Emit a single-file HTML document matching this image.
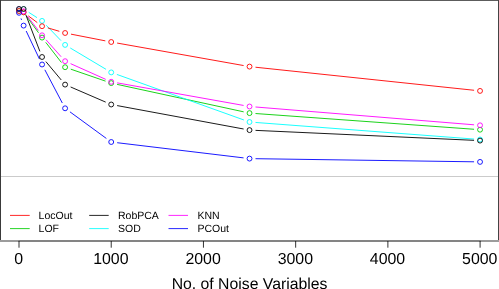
<!DOCTYPE html>
<html><head><meta charset="utf-8"><style>
html,body{margin:0;padding:0;background:#fff;}
body{width:499px;height:289px;overflow:hidden;}
svg{display:block;position:absolute;left:0;top:0;will-change:transform;}
text{font-family:"Liberation Sans",sans-serif;fill:#000;text-rendering:geometricPrecision;}

</style></head><body>
<svg width="499" height="289" viewBox="0 0 499 289">

<rect x="1" y="176" width="497" height="1" fill="#cbcbcb"/>
<g stroke="#00CD00" stroke-width="0.90" fill="none"><path d="M27.14 17.15L38.52 32.75 M45.74 42.33L61.42 62.47 M70.78 69.16L105.54 81.14 M117.07 84.37L243.66 111.83 M255.51 113.53L474.07 129.27"/>
<circle cx="19.00" cy="11.00" r="2.45" stroke-width="0.45"/>
<circle cx="23.61" cy="12.30" r="2.45" stroke-width="0.45"/>
<circle cx="42.05" cy="37.60" r="2.45"/>
<circle cx="65.10" cy="67.20" r="2.45"/>
<circle cx="111.21" cy="83.10" r="2.45"/>
<circle cx="249.53" cy="113.10" r="2.45"/>
<circle cx="480.05" cy="129.70" r="2.45"/>
</g>
<g stroke="#00FFFF" stroke-width="0.90" fill="none"><path d="M28.65 12.25L37.01 17.65 M46.21 25.23L60.95 40.57 M70.26 47.97L106.06 69.33 M116.86 74.43L243.88 119.97 M255.51 122.45L474.07 139.05"/>
<circle cx="19.00" cy="9.00" r="2.45" stroke-width="0.45"/>
<circle cx="23.61" cy="9.00" r="2.45" stroke-width="0.45"/>
<circle cx="42.05" cy="20.90" r="2.45"/>
<circle cx="65.10" cy="44.90" r="2.45"/>
<circle cx="111.21" cy="72.40" r="2.45"/>
<circle cx="249.53" cy="122.00" r="2.45"/>
<circle cx="480.05" cy="139.50" r="2.45"/>
</g>
<g stroke="#FF0000" stroke-width="0.90" fill="none"><path d="M28.40 15.91L37.26 22.59 M47.81 27.90L59.35 31.30 M70.99 34.15L105.32 40.85 M117.12 43.05L243.62 65.55 M255.49 67.23L474.08 90.27"/>
<circle cx="19.00" cy="11.00" r="2.45"/>
<circle cx="23.61" cy="12.30" r="2.45"/>
<circle cx="42.05" cy="26.20" r="2.45"/>
<circle cx="65.10" cy="33.00" r="2.45"/>
<circle cx="111.21" cy="42.00" r="2.45"/>
<circle cx="249.53" cy="66.60" r="2.45"/>
<circle cx="480.05" cy="90.90" r="2.45"/>
</g>
<g stroke="#FF00FF" stroke-width="0.90" fill="none"><path d="M27.27 16.06L38.40 30.54 M46.04 39.78L61.12 56.72 M70.58 63.65L105.73 79.35 M117.12 82.85L243.62 105.45 M255.51 106.99L474.07 124.81"/>
<circle cx="19.00" cy="9.00" r="2.45" stroke-width="0.45"/>
<circle cx="23.61" cy="11.30" r="2.45"/>
<circle cx="42.05" cy="35.30" r="2.45"/>
<circle cx="65.10" cy="61.20" r="2.45"/>
<circle cx="111.21" cy="81.80" r="2.45"/>
<circle cx="249.53" cy="106.50" r="2.45"/>
<circle cx="480.05" cy="125.30" r="2.45"/>
</g>
<g stroke="#0000FF" stroke-width="0.90" fill="none"><path d="M21.03 18.44L21.58 19.96 M26.18 31.02L39.48 59.08 M44.85 69.81L62.31 102.99 M69.95 111.84L106.37 138.46 M117.17 142.71L243.57 157.89 M255.52 158.69L474.05 161.81"/>
<circle cx="19.00" cy="12.80" r="2.45"/>
<circle cx="23.61" cy="25.60" r="2.45"/>
<circle cx="42.05" cy="64.50" r="2.45"/>
<circle cx="65.10" cy="108.30" r="2.45"/>
<circle cx="111.21" cy="142.00" r="2.45"/>
<circle cx="249.53" cy="158.60" r="2.45"/>
<circle cx="480.05" cy="161.90" r="2.45"/>
</g>
<g stroke="#000000" stroke-width="0.90" fill="none"><path d="M25.76 14.60L39.90 51.40 M45.90 61.61L61.26 79.99 M70.61 86.98L105.70 102.12 M117.11 105.59L243.63 129.01 M255.52 130.37L474.06 140.33"/>
<circle cx="19.00" cy="9.00" r="2.45"/>
<circle cx="23.61" cy="9.00" r="2.45"/>
<circle cx="42.05" cy="57.00" r="2.45"/>
<circle cx="65.10" cy="84.60" r="2.45"/>
<circle cx="111.21" cy="104.50" r="2.45"/>
<circle cx="249.53" cy="130.10" r="2.45"/>
<circle cx="480.05" cy="140.60" r="2.45"/>
</g>
<rect x="0" y="0" width="499" height="1" fill="#5c5c5c"/>
<rect x="0" y="0" width="1" height="241" fill="#3a3a3a"/>
<rect x="498" y="0" width="1" height="241" fill="#444"/>
<rect x="0" y="240" width="499" height="2" fill="#9c9c9c"/>
<rect x="18.5" y="240" width="462.3" height="2" fill="#848484"/>
<line x1="19.00" y1="241" x2="19.00" y2="247.7" stroke="#000" stroke-width="1" stroke-opacity="0.8"/>
<text x="18.65" y="263.8" text-anchor="middle" font-size="15.9">0</text>
<line x1="111.22" y1="241" x2="111.22" y2="247.7" stroke="#000" stroke-width="1" stroke-opacity="0.8"/>
<text x="110.87" y="263.8" text-anchor="middle" font-size="15.9">1000</text>
<line x1="203.44" y1="241" x2="203.44" y2="247.7" stroke="#000" stroke-width="1" stroke-opacity="0.8"/>
<text x="203.09" y="263.8" text-anchor="middle" font-size="15.9">2000</text>
<line x1="295.66" y1="241" x2="295.66" y2="247.7" stroke="#000" stroke-width="1" stroke-opacity="0.8"/>
<text x="295.31" y="263.8" text-anchor="middle" font-size="15.9">3000</text>
<line x1="387.88" y1="241" x2="387.88" y2="247.7" stroke="#000" stroke-width="1" stroke-opacity="0.8"/>
<text x="387.53" y="263.8" text-anchor="middle" font-size="15.9">4000</text>
<line x1="480.10" y1="241" x2="480.10" y2="247.7" stroke="#000" stroke-width="1" stroke-opacity="0.8"/>
<text x="479.75" y="263.8" text-anchor="middle" font-size="15.9">5000</text>

<line x1="10.00" y1="215.40" x2="29.70" y2="215.40" stroke="#FF0000" stroke-width="0.85"/>
<text x="38.60" y="219.05" font-size="10.5">LocOut</text>
<line x1="10.00" y1="228.60" x2="29.70" y2="228.60" stroke="#00CD00" stroke-width="0.85"/>
<text x="38.60" y="232.05" font-size="10.5">LOF</text>
<line x1="89.20" y1="215.40" x2="108.70" y2="215.40" stroke="#000000" stroke-width="0.85"/>
<text x="118.00" y="219.05" font-size="10.5">RobPCA</text>
<line x1="89.20" y1="228.60" x2="108.70" y2="228.60" stroke="#00FFFF" stroke-width="0.85"/>
<text x="118.00" y="232.05" font-size="10.5">SOD</text>
<line x1="168.50" y1="215.40" x2="188.00" y2="215.40" stroke="#FF00FF" stroke-width="0.85"/>
<text x="197.40" y="219.05" font-size="10.5">KNN</text>
<line x1="168.50" y1="228.60" x2="188.00" y2="228.60" stroke="#0000FF" stroke-width="0.85"/>
<text x="197.40" y="232.05" font-size="10.5">PCOut</text>

<text x="249.5" y="288.5" text-anchor="middle" font-size="15.78">No. of Noise Variables</text>
</svg>
</body></html>
